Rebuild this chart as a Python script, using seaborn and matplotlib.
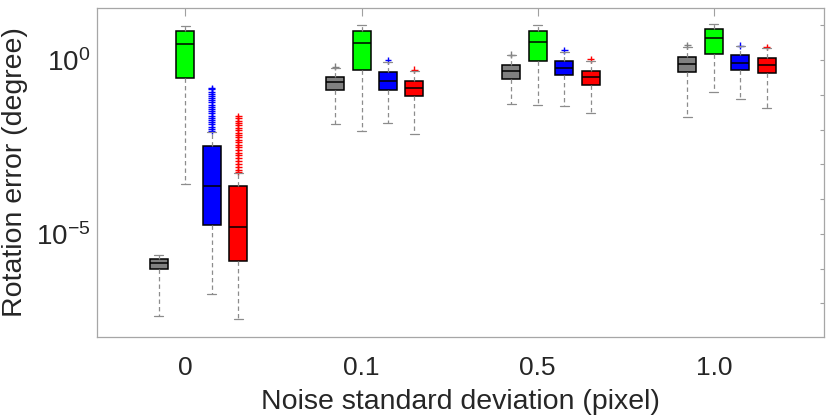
import numpy as np
import pandas as pd
import matplotlib
matplotlib.use('Agg')
import matplotlib.pyplot as plt
from matplotlib.ticker import FixedLocator, FuncFormatter, NullLocator
import seaborn as sns

# groups on the x axis and the four methods (box colours)
noise_labels = ['0', '0.1', '0.5', '1.0']
methods = ['gray', 'green', 'blue', 'red']
colors = ['#808080', '#00ff00', '#0000ff', '#ff0000']

# box summaries, log10(degree): whisker low, q1, median, q3, whisker high
gray_stats = [[-7.37, -6.00, -5.84, -5.72, -5.60],
              [-1.84, -0.85, -0.64, -0.50, -0.23],
              [-1.26, -0.53, -0.31, -0.14, 0.14],
              [-1.64, -0.35, -0.12, 0.08, 0.37]]
green_stats = [[-3.58, -0.51, 0.45, 0.83, 0.99],
               [-2.03, -0.28, 0.50, 0.85, 1.00],
               [-1.30, -0.03, 0.53, 0.85, 1.00],
               [-0.93, 0.17, 0.65, 0.89, 1.03]]
blue_stats = [[-6.73, -4.75, -3.61, -2.46, -2.07],
              [-1.80, -0.85, -0.59, -0.34, -0.04],
              [-1.31, -0.42, -0.23, -0.03, 0.24],
              [-1.13, -0.28, -0.08, 0.14, 0.40]]
red_stats = [[-7.44, -5.77, -4.80, -3.63, -3.24],
             [-2.14, -1.02, -0.80, -0.59, -0.31],
             [-1.51, -0.71, -0.50, -0.30, -0.02],
             [-1.38, -0.38, -0.15, 0.06, 0.35]]

# outliers, log10(degree)
gray_fliers = [[], [-0.19], [0.16], [0.43]]
green_fliers = [[], [], [], []]
blue_fliers = [[-0.80, -0.84, -0.91, -0.97, -1.02, -1.10, -1.16, -1.21, -1.29, -1.35,
                -1.40, -1.47, -1.53, -1.60, -1.66, -1.72, -1.79, -1.85, -1.92, -1.98, -2.04],
               [0.00], [0.28], [0.42]]
red_fliers = [[-1.62, -1.67, -1.75, -1.81, -1.88, -1.95, -2.01, -2.09, -2.16, -2.22,
               -2.30, -2.37, -2.43, -2.51, -2.58, -2.66, -2.73, -2.81, -2.90, -2.98,
               -3.07, -3.15, -3.22],
              [-0.27], [0.02], [0.38]]

all_stats = [gray_stats, green_stats, blue_stats, red_stats]
all_fliers = [gray_fliers, green_fliers, blue_fliers, red_fliers]
offsets = [-0.15, 0.0, 0.15, 0.30]

box_rows, flier_rows = [], []
for m, method in enumerate(methods):
    for g in range(len(noise_labels)):
        pos = g + offsets[m]
        for v in all_stats[m][g]:
            box_rows.append({'method': method, 'pos': pos, 'value': 10.0 ** v})
        for v in all_fliers[m][g]:
            flier_rows.append({'method': method, 'pos': pos, 'value': 10.0 ** v})
box_df = pd.DataFrame(box_rows)
flier_df = pd.DataFrame(flier_rows)

sns.set_style('white')
plt.rcParams['font.family'] = ['Liberation Sans', 'DejaVu Sans']

fig = plt.figure(figsize=(8.3, 4.17), dpi=100)
ax = fig.add_axes([0.1172, 0.1918, 0.8756, 0.789])

grey_line = '#8c8c8c'
sns.boxplot(data=box_df, x='pos', y='value', hue='method', hue_order=methods,
            palette=colors, native_scale=True, dodge=False, width=0.68,
            whis=np.inf, saturation=1, linecolor='black', linewidth=1.1,
            log_scale=(False, True), showfliers=False, legend=False, ax=ax,
            whiskerprops=dict(color=grey_line, linestyle=(0, (3.5, 2.5)), linewidth=0.9),
            capprops=dict(color=grey_line, linewidth=0.9),
            medianprops=dict(color='black', linewidth=1.1))

sns.scatterplot(data=flier_df, x='pos', y='value', hue='method',
                palette=dict(zip(methods, colors)), marker='+', s=24,
                linewidth=1.0, legend=False, ax=ax)

ax.set_xlim(-0.50, 3.625)
ax.set_ylim(10 ** -7.97, 10 ** 1.5)
ax.set_xticks(range(len(noise_labels)))
ax.set_xticklabels(noise_labels)

def decade_label(v, pos):
    e = int(round(np.log10(v)))
    return r'$\mathregular{10^{%d}}$' % e if e in (0, -5) else ''

ax.yaxis.set_major_locator(FixedLocator(10.0 ** np.arange(-8, 2)))
ax.yaxis.set_major_formatter(FuncFormatter(decade_label))
ax.yaxis.set_minor_locator(NullLocator())

ax.tick_params(direction='in', top=True, right=True, color='#a0a0a0',
               labelsize=19, labelcolor='#262626')
ax.tick_params(axis='x', length=6, pad=14)
ax.tick_params(axis='y', length=3, pad=5)
ax.tick_params(axis='y', labelsize=20)
for s in ax.spines.values():
    s.set_color('#a6a6a6')
    s.set_linewidth(0.9)

ax.set_xlabel('Noise standard deviation (pixel)', fontsize=20.5, color='#262626', labelpad=6)
ax.set_ylabel('Rotation error (degree)', fontsize=20.5, color='#262626', labelpad=6)

plt.savefig('out.png', dpi=100)
